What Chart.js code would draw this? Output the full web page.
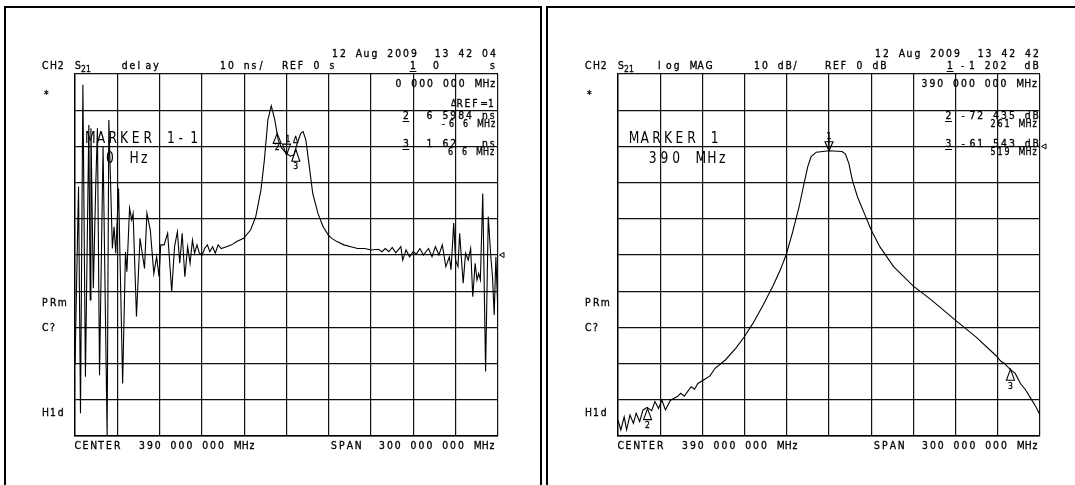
<!DOCTYPE html>
<html>
<head>
<meta charset="utf-8">
<script src="https://cdn.jsdelivr.net/npm/chart.js@4.4.0/dist/chart.umd.min.js"></script>
<style>
  html, body { margin: 0; padding: 0; background: #fff; overflow: hidden; }
  body { width: 1075px; height: 485px; position: relative; }
  .panel { position: absolute; top: 6px; height: 600px; border: 2px solid #000; border-bottom: none; box-sizing: border-box; }
  #p1 { left: 4px; width: 538px; }
  #p2 { left: 546px; width: 600px; border-right: none; }
  canvas { position: absolute; top: 0; }
</style>
</head>
<body>
<div class="panel" id="p1"></div>
<div class="panel" id="p2"></div>
<canvas id="c1" width="543" height="485" style="left:0"></canvas>
<canvas id="c2" width="532" height="485" style="left:543px"></canvas>
<script>
// CH2 S21 group delay trace, frequency (MHz) / delay (ns)
var delayFreq = [240.0, 242.5, 243.9, 245.6, 247.4, 249.8, 250.8, 251.3, 253.0, 254.7,
  255.9, 257.4, 259.9, 262.8, 264.0, 266.5, 267.7, 268.9, 270.9, 273.8,
  275.8, 276.8, 278.7, 280.2, 281.2, 283.6, 286.1, 289.3, 291.0, 293.4,
  295.9, 297.9, 299.6, 300.8, 303.2, 305.7, 308.6, 310.6, 312.6, 314.3,
  316.0, 317.9, 319.9, 321.6, 323.3, 324.8, 326.5, 328.2, 330.2, 331.9,
  333.9, 335.6, 337.6, 339.5, 341.5, 343.7, 347.4, 351.0, 354.7, 359.6,
  364.5, 368.2, 371.9, 374.3, 376.8, 379.2, 381.7, 384.1, 386.6, 389.8,
  392.7, 395.2, 397.6, 400.1, 401.8, 403.7, 406.2, 408.6, 412.3, 416.0,
  419.7, 422.1, 425.8, 430.7, 435.6, 440.5, 445.4, 450.3, 455.2, 457.7,
  460.1, 462.6, 465.0, 467.5, 471.1, 472.4, 474.8, 477.3, 479.7, 482.2,
  484.6, 487.1, 490.7, 493.2, 495.6, 498.1, 500.5, 503.0, 505.5, 506.7,
  508.6, 509.9, 511.6, 512.8, 515.3, 517.0, 518.9, 520.6, 522.1, 523.8,
  525.1, 526.3, 527.5, 529.2, 531.2, 533.1, 534.9, 536.1, 537.3, 538.5, 540.0];
var delayNs = [-30.4, 18.9, -43.7, 47.0, -33.6, 35.9, -12.4, 35.0, -9.2, 18.9,
  35.0, -33.2, 29.9, -50.0, 37.3, 1.8, 7.8, 0.5, 18.4, -35.5,
  0.9, -4.6, 12.9, 9.7, 11.5, -17.0, 4.6, -3.7, 11.5, 6.9,
  -5.1, -0.5, -6.0, 2.8, 2.8, 6.0, -10.1, 2.3, 6.4, -2.3,
  6.0, -6.0, 2.3, -2.3, 4.1, 0.5, 2.8, 0.5, 0.0, 1.8,
  2.8, 0.9, 2.3, 0.5, 2.8, 1.8, 2.3, 2.8, 3.7, 4.6,
  6.9, 10.6, 18.0, 26.2, 37.3, 41.2, 37.3, 31.8, 29.5, 28.1,
  27.3, 27.6, 30.8, 33.6, 34.1, 31.8, 24.4, 17.0, 11.5, 7.8,
  5.5, 4.6, 3.7, 2.8, 2.3, 1.8, 1.8, 1.4, 1.6, 0.9,
  1.8, 0.9, 2.1, 0.6, 2.3, -1.4, 1.4, -0.5, 0.9, 0.3,
  1.8, 0.0, 1.8, -0.5, 2.3, 0.0, 2.8, -3.2, -0.5, -4.1,
  8.8, -1.4, -3.2, 6.0, -7.8, 0.5, -1.4, 1.8, -11.5, -2.3,
  -6.9, -5.1, -6.9, 17.0, -32.2, 10.6, -0.5, -6.0, -16.6, -0.5, -16.6];

// CH2 S21 log magnitude trace, frequency (MHz) / level (dB)
var magFreq = [240.0, 242.0, 244.4, 246.1, 248.5, 251.0, 252.9, 255.4, 257.8, 260.7,
  263.9, 266.3, 268.8, 271.2, 273.7, 277.3, 282.2, 284.6, 287.1, 292.0,
  294.4, 296.8, 301.7, 305.4, 309.0, 316.3, 323.7, 329.8, 335.9, 343.2,
  350.5, 355.4, 359.5, 363.9, 368.8, 372.4, 374.9, 377.3, 381.0, 390.0,
  399.3, 401.7, 404.1, 406.6, 410.2, 415.1, 420.0, 426.1, 435.9, 450.0,
  462.7, 479.8, 494.4, 509.0, 512.0, 514.5, 518.8, 522.4, 526.1, 529.8,
  533.4, 537.1, 540.0];
var magDb = [-75.6, -78.3, -74.7, -78.3, -74.2, -76.5, -73.7, -76.0, -72.8, -72.1,
  -73.0, -70.5, -72.4, -70.1, -72.8, -70.1, -69.1, -68.2, -69.0, -66.4,
  -67.1, -65.5, -64.3, -63.4, -61.3, -59.0, -55.8, -52.6, -48.9, -43.8,
  -38.3, -34.1, -30.0, -24.0, -16.6, -10.0, -5.6, -2.8, -1.6, -1.2,
  -1.4, -2.1, -4.7, -9.3, -13.9, -18.5, -23.1, -27.7, -33.2, -38.6,
  -42.4, -48.0, -52.6, -57.9, -59.3, -59.9, -61.6, -62.7, -65.5, -67.3,
  -69.6, -71.9, -74.2];

// markers
var delayMarkerFreq = [390, 383.4, 396.6];
var delayMarkerNs = [27.6, 33.6, 29.2];
var magMarkerFreq = [390, 261, 519];
var magMarkerDb = [-1.202, -72.435, -61.543];

// axis settings: start/stop MHz, 10 divisions each way
var freqStart = 240, freqStop = 540, freqDiv = 30;
var delayTop = 50, delayBottom = -50, delayRef = 0;
var magTop = 20, magBottom = -80, magRef = 0;

// text styles: size, pitch (fixed char cell), horizontal squeeze, stroke
var STYLE = {
  s: { size: 10.5, pitch: 7.9, sx: 0.88, lw: 0.35 },
  n: { size: 10, pitch: 7.0, sx: 0.8, lw: 0.35 },
  b: { size: 15, pitch: 11.7, sx: 0.82, lw: 0 },
  t: { size: 8.5, pitch: 5.0, sx: 0.9, lw: 0.3 }
};

// [text, x from plot left, y, style, underline]
var commonText = [
  ['CH2', -33, 65.5, 's'], ['S', 0, 65.5, 's'], ['21', 6, 68.5, 't'],
  ['*', -31, 94, 's'],
  ['PRm', -33, 302, 's'], ['C?', -33, 327, 's'], ['H1d', -33, 412.5, 's'],
  ['CENTER', -0.5, 445.5, 's'], ['390 000 000 MHz', 64, 445.5, 's'],
  ['SPAN', 256, 445.5, 's'], ['300 000 000 MHz', 304, 445.5, 's']
];
var delayText = [
  ['12 Aug 2009  13 42 04', 257, 53, 's'],
  ['delay', 46.7, 65.5, 's'], ['10 ns/', 145, 65.5, 's'], ['REF 0 s', 207, 65.5, 's'],
  ['1', 335, 65.5, 's', true], ['0', 358, 65.5, 's'], ['s', 415, 65.5, 's'],
  ['0 000 000 MHz', 320.5, 83.5, 's'],
  ['\u0394', 376, 103, 't'], ['REF=1', 381.5, 103, 's'],
  ['2', 328, 115.5, 's', true], ['6 5984 ns', 351.6, 115.5, 's'],
  ['-6 6 MHz', 367, 123.5, 'n'],
  ['3', 328, 143.5, 's', true], ['1 62   ns', 351.6, 143.5, 's'],
  ['6 6 MHz', 373, 151.5, 'n'],
  ['MARKER 1-1', 10, 138, 'b'], ['0 Hz', 31, 157.5, 'b']
];
var magText = [
  ['12 Aug 2009  13 42 42', 257, 53, 's'],
  ['log MAG', 40, 65.5, 's'], ['10 dB/', 136, 65.5, 's'], ['REF 0 dB', 207, 65.5, 's'],
  ['1', 329, 65.5, 's', true], ['-1 202', 343, 65.5, 's'], ['dB', 406.5, 65.5, 's'],
  ['390 000 000 MHz', 303.5, 83.5, 's'],
  ['2', 327.5, 115.5, 's', true], ['-72 435 dB', 343.5, 115.5, 's'],
  ['261 MHz', 372.5, 123.5, 'n'],
  ['3', 327.5, 143.5, 's', true], ['-61 543 dB', 343.5, 143.5, 's'],
  ['519 MHz', 372.5, 151.5, 'n'],
  ['MARKER 1', 10.8, 138, 'b'], ['390 MHz', 30.8, 157.5, 'b']
];

// marker drawing: direction, triangle height, label offset from apex
var delayMarkerLook = [
  { dir: 'down', h: 11, label: '1', lx: 1.4, ly: -16, extra: '\u0394', ex: 9, ey: -15 },
  { dir: 'up', h: 10, label: '2', lx: 0, ly: 14 },
  { dir: 'up', h: 12, label: '3', lx: 0, ly: 17 }
];
var magMarkerLook = [
  { dir: 'down', h: 9, label: '1', lx: 0, ly: -14.5, stem: true },
  { dir: 'up', h: 11, label: '2', lx: 0, ly: 16.5 },
  { dir: 'up', h: 11, label: '3', lx: 0, ly: 16.5 }
];

function drawStr(ctx, str, x, y, st, underline) {
  var s = STYLE[st];
  ctx.font = s.size + 'px "DejaVu Sans"';
  ctx.textAlign = 'left';
  ctx.textBaseline = 'alphabetic';
  var base = y + s.size * 0.365;
  for (var i = 0; i < str.length; i++) {
    ctx.save();
    ctx.translate(x + i * s.pitch, base);
    ctx.scale(s.sx, 1);
    ctx.fillText(str[i], 0, 0);
    if (s.lw) {
      ctx.lineWidth = s.lw;
      ctx.strokeText(str[i], 0, 0);
    }
    ctx.restore();
  }
  if (underline) {
    ctx.lineWidth = 1;
    ctx.beginPath();
    ctx.moveTo(x - 0.5, Math.round(base + 2) + 0.5);
    ctx.lineTo(x + str.length * s.pitch - 1.5, Math.round(base + 2) + 0.5);
    ctx.stroke();
  }
}

function overlay(texts, mFreq, mVal, looks, refValue) {
  return {
    id: 'hpOverlay',
    afterDraw: function (chart) {
      var ctx = chart.ctx, a = chart.chartArea;
      var xs = chart.scales.x, ys = chart.scales.y;
      ctx.save();
      ctx.fillStyle = '#000';
      ctx.strokeStyle = '#000';
      texts.forEach(function (t) {
        drawStr(ctx, t[0], a.left + t[1], t[2], t[3], t[4]);
      });
      // reference position marker on right edge
      var ry = ys.getPixelForValue(refValue);
      ctx.lineWidth = 1;
      ctx.beginPath();
      ctx.moveTo(a.right + 1.5, ry);
      ctx.lineTo(a.right + 6, ry - 2.5);
      ctx.lineTo(a.right + 6, ry + 2.5);
      ctx.closePath();
      ctx.stroke();
      // trace markers
      for (var i = 0; i < mFreq.length; i++) {
        var lk = looks[i];
        var px = xs.getPixelForValue(mFreq[i]);
        var py = ys.getPixelForValue(mVal[i]);
        var by = lk.dir === 'up' ? py + lk.h : py - lk.h;
        ctx.lineWidth = 1.1;
        ctx.beginPath();
        ctx.moveTo(px, py);
        ctx.lineTo(px - 4, by);
        ctx.lineTo(px + 4, by);
        ctx.closePath();
        ctx.stroke();
        if (lk.stem) {
          ctx.beginPath();
          ctx.moveTo(px, by - 3);
          ctx.lineTo(px, py);
          ctx.stroke();
        }
        drawStr(ctx, lk.label, px + lk.lx - 2.5, py + lk.ly, 't');
        if (lk.extra) drawStr(ctx, lk.extra, px + lk.ex - 2.5, py + lk.ey, 't');
      }
      ctx.restore();
    }
  };
}

function points(fx, vy) {
  return fx.map(function (f, i) { return { x: f, y: vy[i] }; });
}

function makeChart(id, data, yMin, yMax, pad, plug) {
  var grid = { color: '#111', lineWidth: 1.2, drawTicks: false };
  return new Chart(document.getElementById(id), {
    type: 'line',
    data: {
      datasets: [{
        data: data,
        borderColor: '#000',
        borderWidth: 1.1,
        pointRadius: 0,
        tension: 0,
        fill: false
      }]
    },
    options: {
      responsive: false,
      animation: false,
      events: [],
      layout: { padding: pad },
      plugins: { legend: { display: false }, tooltip: { enabled: false } },
      scales: {
        x: {
          type: 'linear', min: freqStart, max: freqStop,
          ticks: { display: false, stepSize: freqDiv },
          grid: grid,
          border: { display: true, color: '#000', width: 1.4 },
          afterFit: function (s) { s.height = 0; }
        },
        y: {
          type: 'linear', min: yMin, max: yMax,
          ticks: { display: false, stepSize: 10 },
          grid: grid,
          border: { display: true, color: '#000', width: 1.4 },
          afterFit: function (s) { s.width = 0; }
        }
      }
    },
    plugins: [plug]
  });
}

makeChart('c1', points(delayFreq, delayNs), delayBottom, delayTop,
  { left: 75, top: 74, right: 45, bottom: 49 },
  overlay(commonText.concat(delayText), delayMarkerFreq, delayMarkerNs, delayMarkerLook, delayRef));

makeChart('c2', points(magFreq, magDb), magBottom, magTop,
  { left: 75, top: 74, right: 35, bottom: 49 },
  overlay(commonText.concat(magText), magMarkerFreq, magMarkerDb, magMarkerLook, magRef));
</script>
</body>
</html>
